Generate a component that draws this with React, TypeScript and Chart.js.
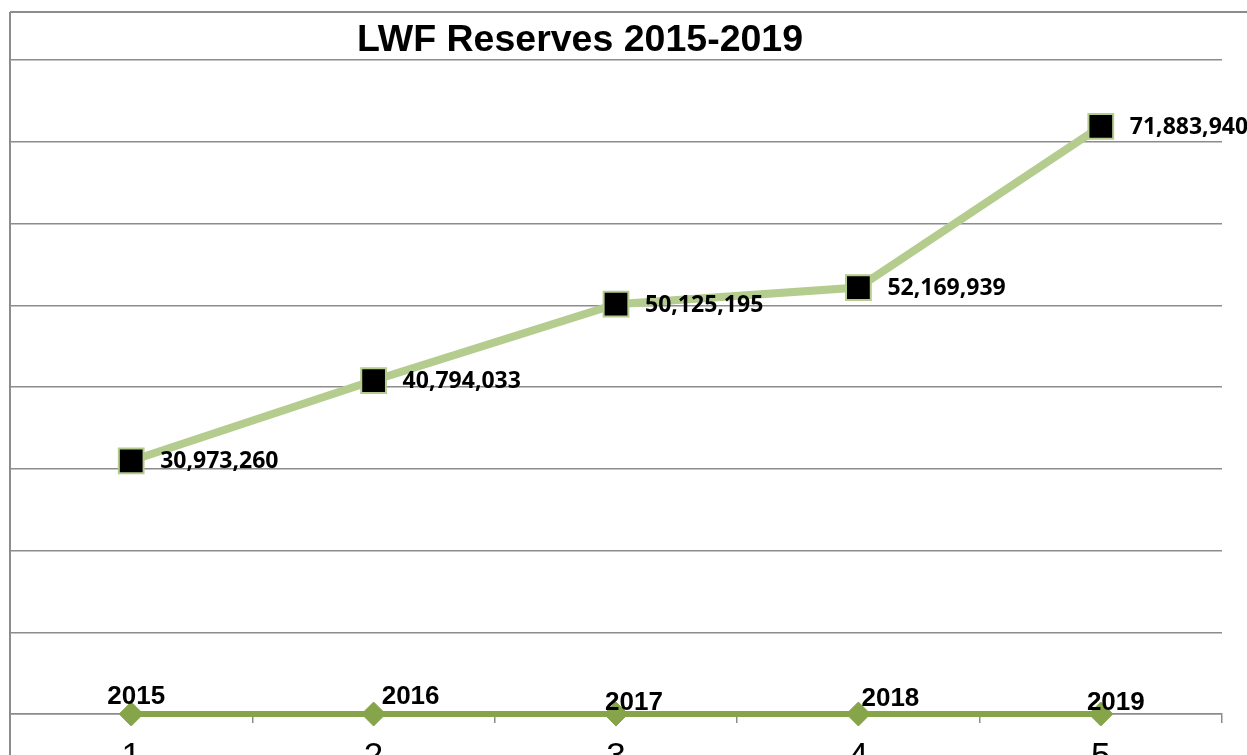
import React, { useEffect, useRef } from "react";
import { Chart, registerables } from "chart.js";

Chart.register(...registerables);

const categories = ["1", "2", "3", "4", "5"];
const reserves = [30973260, 40794033, 50125195, 52169939, 71883940];
const years = ["2015", "2016", "2017", "2018", "2019"];
const yearSeries = [0, 0, 0, 0, 0];
const yMin = 0;
const yMax = 80000000;
const yStep = 10000000;
const titleText = "LWF Reserves 2015-2019";

// label nudges (style only)
const yearLabelDx = [5, 37, 18, 32, 15];
const yearLabelDy = [-17, -17, -11, -15, -11];

const fmt = (v: number) => v.toLocaleString("en-US");

const decorPlugin = {
  id: "decor",
  beforeDraw(chart: any) {
    const ctx = chart.ctx;
    const a = chart.chartArea;
    ctx.save();
    ctx.strokeStyle = "#8c8c8c";
    ctx.lineWidth = 2;
    ctx.beginPath();
    ctx.moveTo(a.left, 12);
    ctx.lineTo(chart.width, 12);
    ctx.moveTo(a.left, 12);
    ctx.lineTo(a.left, chart.height);
    ctx.stroke();
    ctx.restore();
  },
  afterDraw(chart: any) {
    const ctx = chart.ctx;
    const a = chart.chartArea;
    ctx.save();
    ctx.fillStyle = "#000";
    ctx.font = "bold 37.5px 'Liberation Sans', Arial, sans-serif";
    ctx.textAlign = "center";
    ctx.textBaseline = "middle";
    ctx.fillText(titleText, (a.left + a.right) / 2 - 36, 41);
    ctx.restore();
  },
};

const labelsPlugin = {
  id: "pointLabels",
  afterDatasetsDraw(chart: any) {
    const ctx = chart.ctx;
    ctx.save();
    const m0 = chart.getDatasetMeta(0);
    ctx.fillStyle = "#000";
    ctx.font = "bold 23px 'Open Sans', sans-serif";
    ctx.textAlign = "left";
    ctx.textBaseline = "middle";
    m0.data.forEach((p: any, i: number) => {
      ctx.fillText(fmt(reserves[i]), p.x + 29, p.y + 1);
    });
    const m1 = chart.getDatasetMeta(1);
    ctx.font = "bold 26px 'Liberation Sans', Arial, sans-serif";
    ctx.textAlign = "center";
    m1.data.forEach((p: any, i: number) => {
      ctx.fillText(years[i], p.x + yearLabelDx[i], p.y + yearLabelDy[i]);
    });
    ctx.restore();
  },
};

export default function App() {
  const ref = useRef<HTMLCanvasElement | null>(null);
  useEffect(() => {
    if (!ref.current) return;
    const chart = new Chart(ref.current, {
      type: "line",
      data: {
        labels: categories,
        datasets: [
          {
            label: "Reserves",
            data: reserves,
            borderColor: "#b4cc8e",
            borderWidth: 8,
            pointStyle: "rect",
            pointRadius: 17.5,
            pointBackgroundColor: "#000",
            pointBorderColor: "#b4cc8e",
            pointBorderWidth: 2,
            tension: 0,
            clip: false as any,
          },
          {
            label: "Year",
            data: yearSeries,
            borderColor: "#86a44a",
            borderWidth: 6,
            pointStyle: "rectRot",
            pointRadius: 12,
            pointBackgroundColor: "#86a44a",
            pointBorderColor: "#86a44a",
            pointBorderWidth: 1,
            tension: 0,
            clip: false as any,
          },
        ],
      },
      options: {
        animation: false,
        responsive: true,
        maintainAspectRatio: false,
        layout: { autoPadding: false, padding: { left: 10, right: 25, top: 60, bottom: 0 } },
        plugins: {
          legend: { display: false },
          title: { display: false },
          tooltip: { enabled: false },
        },
        scales: {
          x: {
            type: "category",
            offset: true,
            grid: {
              display: true,
              drawOnChartArea: false,
              drawTicks: true,
              tickLength: 9,
              offset: true,
              color: "#8c8c8c",
              lineWidth: 1.5,
            },
            border: { display: true, color: "#8c8c8c", width: 1.5 },
            ticks: {
              color: "#000",
              font: { family: "'Liberation Sans', Arial, sans-serif", size: 35 },
              padding: 13,
              autoSkip: false,
              maxRotation: 0,
            },
            afterFit(scale: any) {
              scale.height = 41;
              scale.paddingLeft = 0;
              scale.paddingRight = 0;
            },
          },
          y: {
            min: yMin,
            max: yMax,
            ticks: { display: false, stepSize: yStep },
            grid: { color: "#8c8c8c", lineWidth: 1.5, drawTicks: false },
            border: { display: true, color: "#8c8c8c", width: 1.5 },
            afterFit(scale: any) {
              scale.width = 0;
              scale.paddingTop = 0;
              scale.paddingBottom = 0;
            },
          },
        },
      },
      plugins: [decorPlugin, labelsPlugin],
    });
    return () => chart.destroy();
  }, []);
  return (
    <div style={{ position: "fixed", left: 0, top: 0, width: 1247, height: 755, background: "#fff" }}>
      <canvas ref={ref} />
    </div>
  );
}
